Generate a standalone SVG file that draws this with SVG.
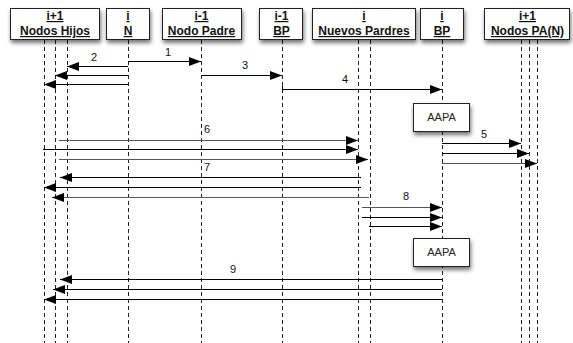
<svg xmlns="http://www.w3.org/2000/svg" width="573" height="343" viewBox="0 0 573 343">
<defs>
<filter id="sh" x="-20%" y="-20%" width="140%" height="160%">
<feDropShadow dx="1" dy="3" stdDeviation="2.2" flood-color="#000" flood-opacity="0.55"/>
</filter>
<marker id="ah" markerUnits="userSpaceOnUse" markerWidth="13" markerHeight="10" refX="12" refY="4.5" orient="auto">
<path d="M0,0 L12,4.5 L0,9 z" fill="#000"/>
</marker>
</defs>
<style>
.box{fill:#fff;stroke:#222;stroke-width:1;filter:url(#sh)}
.ht{font-family:"Liberation Sans",Arial,sans-serif;font-size:12px;font-weight:bold;text-anchor:middle;text-decoration:underline;fill:#111}
.life{stroke:#222;stroke-width:1;stroke-dasharray:4,3;fill:none}
.m{stroke:#000;stroke-width:1;fill:none}
.g{stroke:#555}
.a{marker-end:url(#ah)}
.lbl{font-family:"Liberation Sans",Arial,sans-serif;font-size:11px;fill:#111;text-anchor:middle}
.at{font-family:"Liberation Sans",Arial,sans-serif;font-size:11px;fill:#222;text-anchor:middle}
</style>
<rect width="573" height="343" fill="#fff"/>
<g id="lifelines">
<line class="life" x1="44.5" y1="40" x2="44.5" y2="343"/>
<line class="life" x1="55.5" y1="40" x2="55.5" y2="343"/>
<line class="life" x1="67.5" y1="40" x2="67.5" y2="343"/>
<line class="life" x1="128.5" y1="40" x2="128.5" y2="343"/>
<line class="life" x1="201.5" y1="40" x2="201.5" y2="343"/>
<line class="life" x1="282.5" y1="40" x2="282.5" y2="343"/>
<line class="life" x1="358.5" y1="40" x2="358.5" y2="343"/>
<line class="life" x1="370.5" y1="40" x2="370.5" y2="343"/>
<line class="life" x1="442.5" y1="40" x2="442.5" y2="343"/>
<line class="life" x1="521.5" y1="40" x2="521.5" y2="343"/>
<line class="life" x1="529.5" y1="40" x2="529.5" y2="343"/>
<line class="life" x1="537.5" y1="40" x2="537.5" y2="343"/>
</g>
<g id="node-hijos"><rect class="box" x="10.5" y="8.5" width="89" height="31"/><text class="ht" x="55" y="20">i+1</text><text class="ht" x="55" y="35">Nodos Hijos</text></g>
<g id="node-n"><rect class="box" x="106.5" y="8.5" width="43" height="31"/><text class="ht" x="128" y="20">i</text><text class="ht" x="128" y="35">N</text></g>
<g id="node-padre"><rect class="box" x="162.5" y="8.5" width="79" height="31"/><text class="ht" x="201.5" y="20">i-1</text><text class="ht" x="201.5" y="35">Nodo Padre</text></g>
<g id="node-bp1"><rect class="box" x="259.5" y="8.5" width="43" height="31"/><text class="ht" x="281.5" y="20">i-1</text><text class="ht" x="281.5" y="35">BP</text></g>
<g id="node-nuevos"><rect class="box" x="312.5" y="8.5" width="103" height="31"/><text class="ht" x="364" y="20">i</text><text class="ht" x="364" y="35">Nuevos Pardres</text></g>
<g id="node-bp"><rect class="box" x="420.5" y="8.5" width="43" height="31"/><text class="ht" x="442" y="20">i</text><text class="ht" x="442" y="35">BP</text></g>
<g id="node-pa"><rect class="box" x="484.5" y="8.5" width="85" height="31"/><text class="ht" x="527.5" y="20">i+1</text><text class="ht" x="527.5" y="35">Nodos PA(N)</text></g>
<g id="aapa1"><rect class="box" x="413.5" y="103.5" width="56" height="28"/><text class="at" x="441.5" y="121">AAPA</text></g>
<g id="aapa2"><rect class="box" x="413.5" y="238.5" width="56" height="28"/><text class="at" x="441.5" y="256">AAPA</text></g>
<g id="connectors">
<line class="m a" x1="128" y1="61.5" x2="201" y2="61.5"/>
<line class="m a" x1="128" y1="66.5" x2="67" y2="66.5"/>
<line class="m a" x1="128" y1="75.5" x2="55" y2="75.5"/>
<line class="m a" x1="128" y1="84.5" x2="44" y2="84.5"/>
<line class="m a" x1="201" y1="75.5" x2="282" y2="75.5"/>
<line class="m a" x1="282" y1="89.5" x2="442" y2="89.5"/>
<line class="m" x1="282.5" y1="86" x2="282.5" y2="93"/>
<line class="m g a" x1="59" y1="140.5" x2="358" y2="140.5"/>
<line class="m a" x1="43" y1="149.5" x2="358" y2="149.5"/>
<line class="m g a" x1="59" y1="159.5" x2="368" y2="159.5"/>
<line class="m a" x1="442" y1="143.5" x2="521" y2="143.5"/>
<line class="m a" x1="442" y1="153.5" x2="529" y2="153.5"/>
<line class="m g a" x1="442" y1="163.5" x2="537" y2="163.5"/>
<line class="m a" x1="361" y1="177.5" x2="60" y2="177.5"/>
<line class="m a" x1="361" y1="187.5" x2="44" y2="187.5"/>
<line class="m g a" x1="369" y1="197.5" x2="52" y2="197.5"/>
<line class="m g a" x1="362" y1="207.5" x2="442" y2="207.5"/>
<line class="m a" x1="362" y1="217.5" x2="442" y2="217.5"/>
<line class="m a" x1="369" y1="226.5" x2="442" y2="226.5"/>
<line class="m a" x1="442" y1="279.5" x2="60" y2="279.5"/>
<line class="m a" x1="442" y1="289.5" x2="53" y2="289.5"/>
<line class="m a" x1="442" y1="299.5" x2="44" y2="299.5"/>
</g>
<g id="labels">
<text class="lbl" x="168" y="56">1</text>
<text class="lbl" x="94" y="61">2</text>
<text class="lbl" x="245" y="69">3</text>
<text class="lbl" x="345" y="83">4</text>
<text class="lbl" x="484" y="138">5</text>
<text class="lbl" x="207" y="133">6</text>
<text class="lbl" x="207" y="171">7</text>
<text class="lbl" x="406" y="200">8</text>
<text class="lbl" x="233" y="273">9</text>
</g>
</svg>
